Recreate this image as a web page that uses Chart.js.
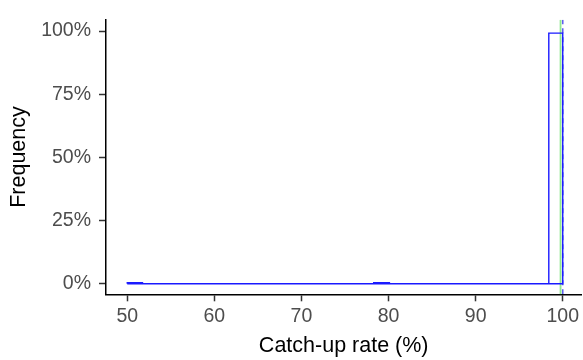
<!DOCTYPE html>
<html>
<head>
<meta charset="utf-8">
<script src="https://cdn.jsdelivr.net/npm/chart.js@4.4.1/dist/chart.umd.min.js"></script>
<style>
    html, body { margin: 0; padding: 0; background: #fff; }
    #wrap { width: 583px; height: 360px; position: relative; }
</style>
</head>
<body>
<div id="wrap"><canvas id="chart"></canvas></div>
<script>
// Histogram of catch-up rates (only non-empty bins listed)
const histMin = 50;
const histMax = 100;
const binStart = [50, 78.3, 98.4];
const binEnd = [51.75, 80.1, 100];
const binFreq = [0.4, 0.4, 99.2];

// Reference lines
const meanRate = 99.75;
const medianRate = 100;

// Axes
const xTicks = [50, 60, 70, 80, 90, 100];
const yTicks = [0, 25, 50, 75, 100];
const xRange = [47.56, 102.14];
const yRange = [-4.15, 104.5];

const tickFont = { family: "'Liberation Sans', Arial, sans-serif", size: 19.5 };
const titleFont = { family: "'Liberation Sans', Arial, sans-serif", size: 21.5 };

function histOutline() {
    const pts = [{ x: histMin, y: 0 }];
    binStart.forEach((s, i) => {
        pts.push({ x: s, y: 0 });
        pts.push({ x: s, y: binFreq[i] });
        pts.push({ x: binEnd[i], y: binFreq[i] });
        pts.push({ x: binEnd[i], y: 0 });
    });
    pts.push({ x: histMax, y: 0 });
    pts.push({ x: histMin, y: 0 });
    return pts;
}

function vline(x) {
    return [{ x: x, y: yRange[0] }, { x: x, y: yRange[1] }];
}

const axisGrid = {
    display: true,
    drawOnChartArea: false,
    drawTicks: true,
    tickLength: 7,
    tickColor: '#333333',
    tickWidth: 1.5
};

new Chart(document.getElementById('chart'), {
    type: 'line',
    data: {
        datasets: [
            {
                data: histOutline(),
                borderColor: '#1a1aff',
                borderWidth: 1.4,
                pointRadius: 0,
                fill: false,
                tension: 0
            },
            {
                data: vline(meanRate),
                borderColor: '#90e890',
                borderWidth: 1.8,
                pointRadius: 0
            },
            {
                data: vline(medianRate),
                borderColor: 'rgba(40, 40, 235, 0.75)',
                borderWidth: 1.6,
                borderDash: [5, 4],
                pointRadius: 0
            }
        ]
    },
    options: {
        responsive: true,
        maintainAspectRatio: false,
        animation: false,
        layout: { padding: { top: 6, right: 0, left: 0, bottom: 0 } },
        plugins: {
            legend: { display: false },
            tooltip: { enabled: false }
        },
        scales: {
            x: {
                type: 'linear',
                min: xRange[0],
                max: xRange[1],
                afterBuildTicks: (scale) => {
                    scale.ticks = xTicks.map(v => ({ value: v }));
                },
                afterFit: (scale) => { scale.height = 65.7; },
                border: { display: true, color: '#000', width: 1.5 },
                grid: axisGrid,
                ticks: {
                    font: tickFont,
                    color: '#4d4d4d',
                    padding: 4,
                    maxRotation: 0,
                    autoSkip: false
                },
                title: {
                    display: true,
                    text: 'Catch-up rate (%)',
                    font: titleFont,
                    color: '#000',
                    padding: { top: 0, bottom: 1.4 }
                }
            },
            y: {
                type: 'linear',
                min: yRange[0],
                max: yRange[1],
                afterBuildTicks: (scale) => {
                    scale.ticks = yTicks.map(v => ({ value: v }));
                },
                afterFit: (scale) => { scale.width = 106; },
                border: { display: true, color: '#000', width: 1.5 },
                grid: axisGrid,
                ticks: {
                    font: tickFont,
                    color: '#4d4d4d',
                    padding: 8,
                    callback: (v) => v + '%'
                },
                title: {
                    display: true,
                    text: 'Frequency',
                    font: titleFont,
                    color: '#000',
                    padding: { top: 5.7, bottom: 0 }
                }
            }
        }
    }
});
</script>
</body>
</html>
